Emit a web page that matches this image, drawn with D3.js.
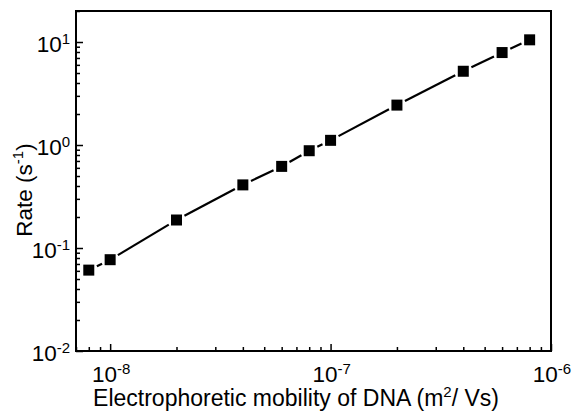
<!DOCTYPE html>
<html lang="en">
<meta charset="utf-8">
<style>
  body { margin: 0; background: #fff; }
  text { font-family: "Liberation Sans", Arial, sans-serif; fill: #000; }
  .domain { display: none; }
</style>
<script src="https://d3js.org/d3.v7.min.js"></script>
<body>
<div id="chart"></div>
<script>
// data
const mobility = [8e-9, 1e-8, 2e-8, 4e-8, 6e-8, 8e-8, 1e-7, 2e-7, 4e-7, 6e-7, 8e-7]
const rate = [0.061, 0.077, 0.187, 0.41, 0.62, 0.88, 1.11, 2.44, 5.2, 7.9, 10.5]
const xMajor = [1e-8, 1e-7, 1e-6]
const xExp = ["-8", "-7", "-6"]
const yMajor = [0.01, 0.1, 1, 10]
const yExp = ["-2", "-1", "0", "1"]

const W = 574, H = 416
const MARGIN = { LEFT: 76, RIGHT: 23, TOP: 11, BOTTOM: 65 }
const WIDTH = W - MARGIN.LEFT - MARGIN.RIGHT
const HEIGHT = H - MARGIN.TOP - MARGIN.BOTTOM

const svg = d3.select("#chart").append("svg")
  .attr("width", W)
  .attr("height", H)

const g = svg.append("g")
  .attr("transform", `translate(${MARGIN.LEFT}, ${MARGIN.TOP})`)

const x = d3.scaleLog().domain([7e-9, 1e-6]).range([0, WIDTH])
const y = d3.scaleLog().domain([0.01, 20]).range([HEIGHT, 0])

// minor ticks (2..9 of each decade inside the domain)
const minors = (lo, hi) => {
  const out = []
  for (let e = -10; e <= 2; e++) {
    for (let m = 2; m <= 9; m++) {
      const v = m * Math.pow(10, e)
      if (v >= lo * 0.999 && v <= hi * 1.001) out.push(v)
    }
  }
  return out
}

// axes, ticks pointing inward
g.append("g")
  .attr("transform", `translate(0, ${HEIGHT})`)
  .call(d3.axisBottom(x).tickValues(minors(7e-9, 1e-6)).tickSize(-4).tickFormat(""))
g.append("g")
  .attr("transform", `translate(0, ${HEIGHT})`)
  .call(d3.axisBottom(x).tickValues(xMajor).tickSize(-7).tickFormat(""))
g.append("g")
  .call(d3.axisLeft(y).tickValues(minors(0.01, 20)).tickSize(-4).tickFormat(""))
g.append("g")
  .call(d3.axisLeft(y).tickValues(yMajor).tickSize(-7).tickFormat(""))

g.selectAll(".tick line").attr("stroke", "#000").attr("stroke-width", 1.5)

// frame
g.append("rect")
  .attr("width", WIDTH)
  .attr("height", HEIGHT)
  .attr("fill", "none")
  .attr("stroke", "#000")
  .attr("stroke-width", 2)

// tick labels
const xl = g.selectAll(".xlab").data(xMajor).join("text")
  .attr("class", "xlab")
  .attr("x", d => x(d) + 1)
  .attr("y", HEIGHT + 31)
  .attr("text-anchor", "middle")
  .attr("font-size", 22.5)
xl.append("tspan").text("10")
xl.append("tspan").attr("dy", -8.5).attr("font-size", 15).text((d, i) => xExp[i])

const yl = g.selectAll(".ylab").data(yMajor).join("text")
  .attr("class", "ylab")
  .attr("x", -6)
  .attr("y", d => y(d) + 10)
  .attr("text-anchor", "end")
  .attr("font-size", 22.5)
yl.append("tspan").text("10")
yl.append("tspan").attr("dy", -8.5).attr("font-size", 15).text((d, i) => yExp[i])

// axis titles
const xt = svg.append("text")
  .attr("x", 296)
  .attr("y", 406)
  .attr("text-anchor", "middle")
  .attr("font-size", 23)
xt.append("tspan").text("Electrophoretic mobility of DNA (m")
xt.append("tspan").attr("dy", -9).attr("font-size", 15).text("2")
xt.append("tspan").attr("dy", 9).text("/ Vs)")

const yt = svg.append("text")
  .attr("transform", `translate(32, 190) rotate(-90)`)
  .attr("text-anchor", "middle")
  .attr("font-size", 22.5)
yt.append("tspan").text("Rate (s")
yt.append("tspan").attr("dy", -9).attr("font-size", 15).text("-1")
yt.append("tspan").attr("dy", 9).text(")")

// connecting segments, cut short near each marker
const pts = mobility.map((m, i) => [x(m), y(rate[i])])
const gap = 9
const segs = d3.pairs(pts).map(([a, b]) => {
  const dx = b[0] - a[0], dy = b[1] - a[1]
  const len = Math.hypot(dx, dy)
  const ux = dx / len, uy = dy / len
  return [a[0] + ux * gap, a[1] + uy * gap, b[0] - ux * gap, b[1] - uy * gap]
})
g.selectAll(".seg").data(segs).join("line")
  .attr("class", "seg")
  .attr("x1", d => d[0]).attr("y1", d => d[1])
  .attr("x2", d => d[2]).attr("y2", d => d[3])
  .attr("stroke", "#000")
  .attr("stroke-width", 2.2)

// markers
const S = 11
g.selectAll(".pt").data(mobility).join("rect")
  .attr("class", "pt")
  .attr("x", d => x(d) - S / 2)
  .attr("y", (d, i) => y(rate[i]) - S / 2)
  .attr("width", S)
  .attr("height", S)
  .attr("fill", "#000")
</script>
</body>
</html>
